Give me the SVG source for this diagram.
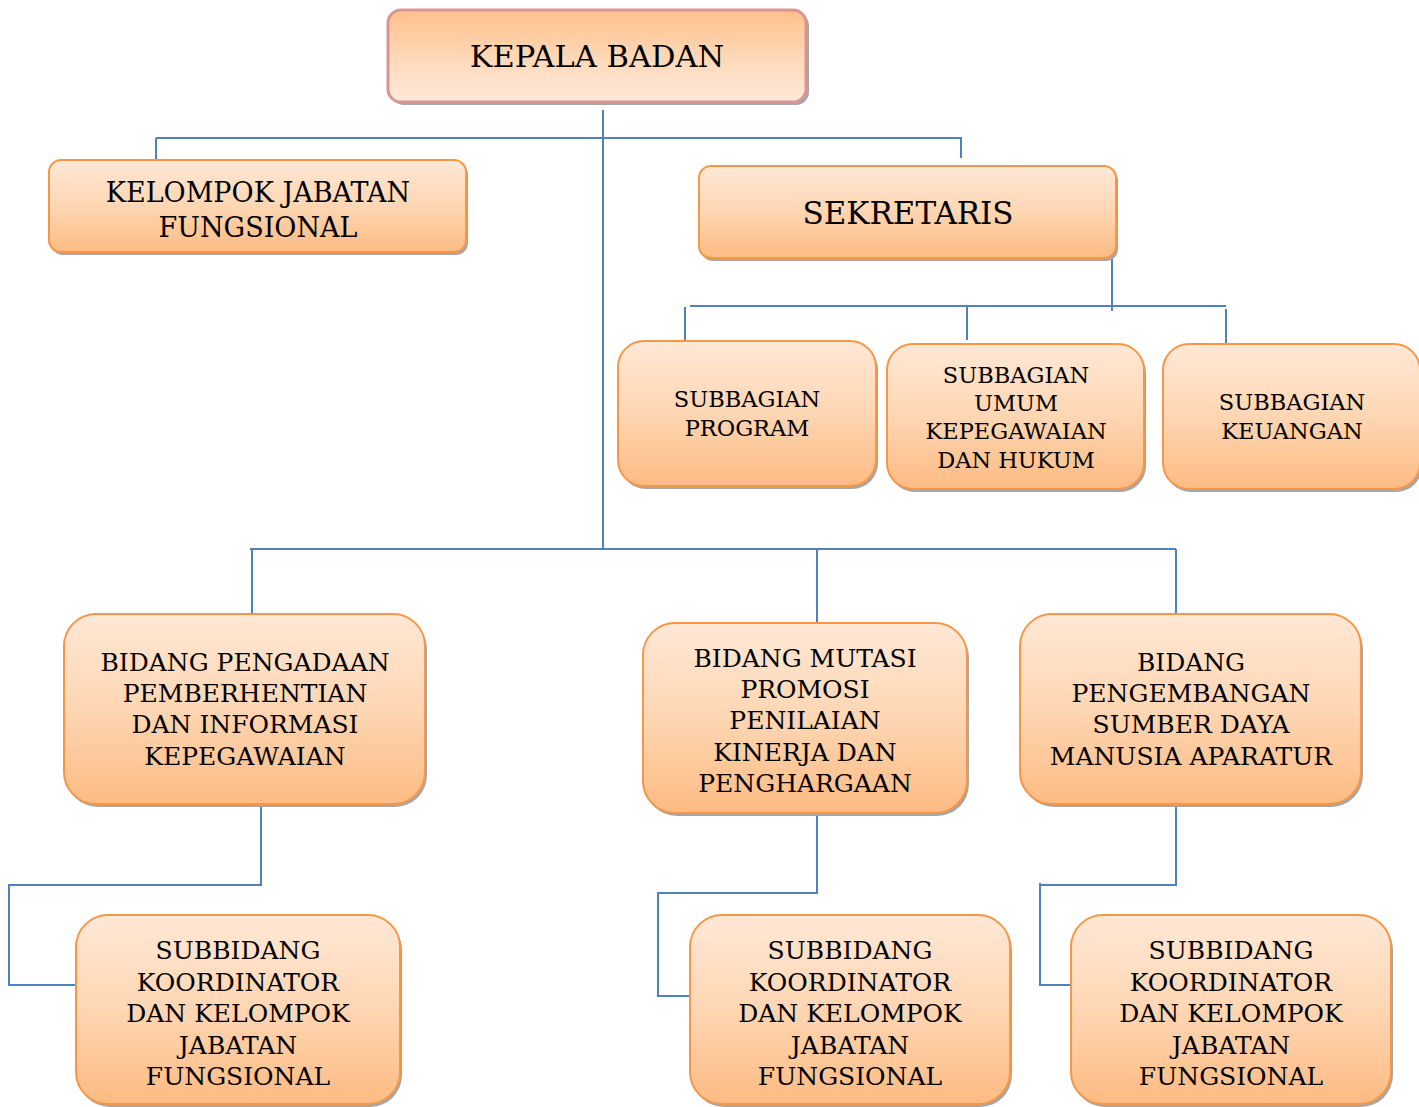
<svg xmlns="http://www.w3.org/2000/svg" width="1419" height="1107" viewBox="0 0 1419 1107">
<defs>
<linearGradient id="gDown" x1="0" y1="0" x2="0" y2="1">
<stop offset="0" stop-color="#ffe8d6"/>
<stop offset="0.5" stop-color="#fed6b3"/>
<stop offset="1" stop-color="#fdbb83"/>
</linearGradient>
<linearGradient id="gUp" x1="0" y1="0" x2="0" y2="1">
<stop offset="0" stop-color="#fec08b"/>
<stop offset="0.5" stop-color="#fed7b6"/>
<stop offset="1" stop-color="#ffe9da"/>
</linearGradient>
</defs>
<style>
.box{fill:url(#gDown);stroke:#f79646;stroke-width:2}
.top{fill:url(#gUp);stroke:#d99594;stroke-width:3}
.sh{fill:#a6a6a6}
.t{font-family:"DejaVu Serif","Liberation Serif",serif;fill:#000;text-anchor:middle;dominant-baseline:central}
.c{fill:none;stroke:#4f81bd;stroke-width:2}
.s1{font-size:25px}
.s2{font-size:22.5px}
</style>
<g id="connectors">
<path class="c" d="M603 110V548"/>
<path class="c" d="M156 138H962M156 138V160M961 137V158"/>
<path class="c" d="M1112 258V311M690 306H1226M685 307V341M967 306V340M1226 309V344"/>
<path class="c" d="M250 549H1176M252 549V614M817 549V623M1176 549V614"/>
<path class="c" d="M261 804V885H9V985H76"/>
<path class="c" d="M817 813V893H658V996H690"/>
<path class="c" d="M1176 804V885H1040M1040 883V985H1071"/>
</g>
<g id="kepala">
<rect class="sh" x="391" y="13" width="418" height="92" rx="13"/>
<rect class="top" x="388" y="10" width="418" height="92" rx="13"/>
<text class="t" x="597" y="56" font-size="30.5">KEPALA BADAN</text>
</g>
<g id="kelompok">
<rect class="sh" x="51" y="163" width="417" height="92" rx="12"/>
<rect class="box" x="49" y="160" width="417" height="92" rx="12"/>
<text class="t" x="258" y="192" font-size="27">KELOMPOK JABATAN</text>
<text class="t" x="258" y="227" font-size="27">FUNGSIONAL</text>
</g>
<g id="sekretaris">
<rect class="sh" x="701" y="169" width="417" height="92" rx="12"/>
<rect class="box" x="699" y="166" width="417" height="92" rx="12"/>
<text class="t" x="908" y="213" font-size="31">SEKRETARIS</text>
</g>
<g id="sub-program">
<rect class="sh" x="620" y="344" width="258" height="145" rx="26"/>
<rect class="box" x="618" y="341" width="258" height="145" rx="26"/>
<text class="t s2" x="747" y="399">SUBBAGIAN</text>
<text class="t s2" x="747" y="428">PROGRAM</text>
</g>
<g id="sub-umum">
<rect class="sh" x="889" y="347" width="257" height="145" rx="26"/>
<rect class="box" x="887" y="344" width="257" height="145" rx="26"/>
<text class="t s2" x="1016" y="375">SUBBAGIAN</text>
<text class="t s2" x="1016" y="403">UMUM</text>
<text class="t s2" x="1016" y="431">KEPEGAWAIAN</text>
<text class="t s2" x="1016" y="460">DAN HUKUM</text>
</g>
<g id="sub-keuangan">
<rect class="sh" x="1165" y="347" width="257" height="145" rx="26"/>
<rect class="box" x="1163" y="344" width="257" height="145" rx="26"/>
<text class="t s2" x="1292" y="402">SUBBAGIAN</text>
<text class="t s2" x="1292" y="431">KEUANGAN</text>
</g>
<g id="bidang-pengadaan">
<rect class="sh" x="66" y="617" width="361" height="190" rx="32"/>
<rect class="box" x="64" y="614" width="361" height="190" rx="32"/>
<text class="t s1" x="245" y="662">BIDANG PENGADAAN</text>
<text class="t s1" x="245" y="693">PEMBERHENTIAN</text>
<text class="t s1" x="245" y="724">DAN INFORMASI</text>
<text class="t s1" x="245" y="756">KEPEGAWAIAN</text>
</g>
<g id="bidang-mutasi">
<rect class="sh" x="645" y="626" width="324" height="190" rx="32"/>
<rect class="box" x="643" y="623" width="324" height="190" rx="32"/>
<text class="t s1" x="805" y="658">BIDANG MUTASI</text>
<text class="t s1" x="805" y="689">PROMOSI</text>
<text class="t s1" x="805" y="720">PENILAIAN</text>
<text class="t s1" x="805" y="752">KINERJA DAN</text>
<text class="t s1" x="805" y="783">PENGHARGAAN</text>
</g>
<g id="bidang-pengembangan">
<rect class="sh" x="1022" y="617" width="341" height="190" rx="32"/>
<rect class="box" x="1020" y="614" width="341" height="190" rx="32"/>
<text class="t s1" x="1191" y="662">BIDANG</text>
<text class="t s1" x="1191" y="693">PENGEMBANGAN</text>
<text class="t s1" x="1191" y="724">SUMBER DAYA</text>
<text class="t s1" x="1191" y="756">MANUSIA APARATUR</text>
</g>
<g id="subbidang-1">
<rect class="sh" x="78" y="918" width="324" height="189" rx="32"/>
<rect class="box" x="76" y="915" width="324" height="189" rx="32"/>
<text class="t s1" x="238" y="950">SUBBIDANG</text>
<text class="t s1" x="238" y="982">KOORDINATOR</text>
<text class="t s1" x="238" y="1013">DAN KELOMPOK</text>
<text class="t s1" x="238" y="1045">JABATAN</text>
<text class="t s1" x="238" y="1076">FUNGSIONAL</text>
</g>
<g id="subbidang-2">
<rect class="sh" x="692" y="918" width="320" height="189" rx="32"/>
<rect class="box" x="690" y="915" width="320" height="189" rx="32"/>
<text class="t s1" x="850" y="950">SUBBIDANG</text>
<text class="t s1" x="850" y="982">KOORDINATOR</text>
<text class="t s1" x="850" y="1013">DAN KELOMPOK</text>
<text class="t s1" x="850" y="1045">JABATAN</text>
<text class="t s1" x="850" y="1076">FUNGSIONAL</text>
</g>
<g id="subbidang-3">
<rect class="sh" x="1073" y="918" width="320" height="189" rx="32"/>
<rect class="box" x="1071" y="915" width="320" height="189" rx="32"/>
<text class="t s1" x="1231" y="950">SUBBIDANG</text>
<text class="t s1" x="1231" y="982">KOORDINATOR</text>
<text class="t s1" x="1231" y="1013">DAN KELOMPOK</text>
<text class="t s1" x="1231" y="1045">JABATAN</text>
<text class="t s1" x="1231" y="1076">FUNGSIONAL</text>
</g>
</svg>
